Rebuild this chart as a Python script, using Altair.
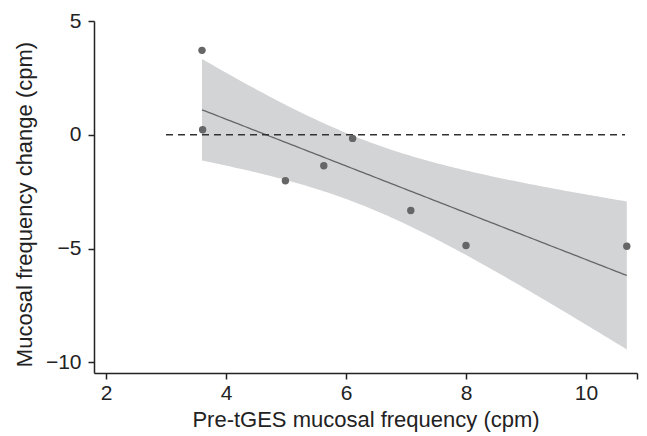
import altair as alt
import numpy as np
import pandas as pd

pre_freq = [3.60, 3.61, 4.99, 5.63, 6.11, 7.08, 8.00, 10.68]
freq_change = [3.71, 0.22, -2.02, -1.36, -0.16, -3.33, -4.87, -4.90]

x_ticks = [2, 4, 6, 8, 10]
y_ticks = [-10, -5, 0, 5]
x_domain = [1.8, 10.85]
y_domain = [-10.47, 5]
ref_x = [3.0, 10.65]
ref_y = 0

# OLS fit with 95% confidence band for the mean
xa = np.array(pre_freq)
ya = np.array(freq_change)
n = len(xa)
slope, intercept = np.polyfit(xa, ya, 1)
resid = ya - (intercept + slope * xa)
s = np.sqrt((resid ** 2).sum() / (n - 2))
sxx = ((xa - xa.mean()) ** 2).sum()
t_crit = 2.446912  # t(0.975, df=6)
xg = np.linspace(xa.min(), xa.max(), 120)
fit = intercept + slope * xg
half = t_crit * s * np.sqrt(1 / n + (xg - xa.mean()) ** 2 / sxx)
band = pd.DataFrame({"x": xg, "fit": fit, "lo": fit - half, "hi": fit + half})

pts = pd.DataFrame({"x": pre_freq, "y": freq_change})
ref = pd.DataFrame({"x": [ref_x[0]], "x2": [ref_x[1]], "y": [ref_y]})

xs = alt.Scale(domain=x_domain, nice=False, zero=False)
ys = alt.Scale(domain=y_domain, nice=False, zero=False)

x_axis = alt.Axis(
    values=x_ticks + [x_domain[1]],
    format="d",
    labelExpr="datum.value > 10.5 ? '' : datum.label",
    title="Pre-tGES mucosal frequency (cpm)",
    grid=False, tickSize=6, labelPadding=3, titlePadding=6,
)
y_axis = alt.Axis(
    values=y_ticks, title="Mucosal frequency change (cpm)",
    grid=False, tickSize=6, labelPadding=7, titlePadding=9, titleY=183,
)

area = alt.Chart(band).mark_area(color="#d3d4d6", opacity=1).encode(
    x=alt.X("x:Q", scale=xs, axis=x_axis),
    y=alt.Y("lo:Q", scale=ys, axis=y_axis),
    y2="hi:Q",
)
line = alt.Chart(band).mark_line(color="#666666", strokeWidth=1.3).encode(
    x=alt.X("x:Q", scale=xs), y=alt.Y("fit:Q", scale=ys)
)
dash = alt.Chart(ref).mark_rule(color="#333333", strokeWidth=1.6, strokeDash=[7, 5]).encode(
    x=alt.X("x:Q", scale=xs), x2="x2:Q", y=alt.Y("y:Q", scale=ys)
)
points = alt.Chart(pts).mark_circle(color="#666666", opacity=1, size=55).encode(
    x=alt.X("x:Q", scale=xs), y=alt.Y("y:Q", scale=ys)
)

chart = (
    alt.layer(area, line, dash, points)
    .properties(width=543, height=352, padding={"left": 86, "top": 13, "right": 2, "bottom": 62},
                autosize=alt.AutoSizeParams(type="none"), background="white")
    .configure_view(stroke=None)
    .configure_axis(
        labelFont="Liberation Sans", titleFont="Liberation Sans",
        labelFontSize=21, titleFontSize=22, labelColor="#222222", titleColor="#222222",
        titleFontWeight="normal", domainColor="#222222", tickColor="#222222",
        domainWidth=1.5, tickWidth=1.5,
    )
)
chart.save("out.html", embed_options={"renderer": "svg", "actions": False})
